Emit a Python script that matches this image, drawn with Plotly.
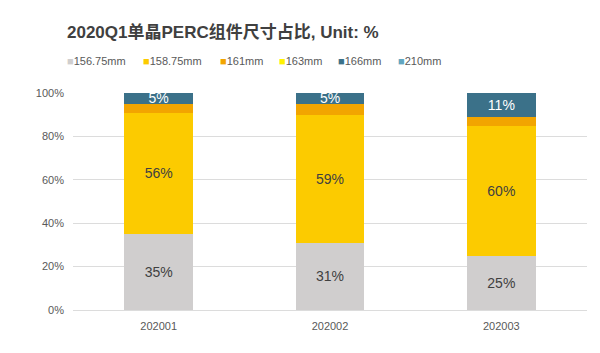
import plotly.graph_objects as go

categories = ["202001", "202002", "202003"]
series_names = ["156.75mm", "158.75mm", "161mm", "163mm", "166mm", "210mm"]
v_15675 = [35, 31, 25]
v_15875 = [56, 59, 60]
v_161 = [4, 5, 4]
v_163 = [0, 0, 0]
v_166 = [5, 5, 11]
v_210 = [0, 0, 0]
values = [v_15675, v_15875, v_161, v_163, v_166, v_210]
y_ticks = [0, 20, 40, 60, 80, 100]
y_tick_labels = ["0%", "20%", "40%", "60%", "80%", "100%"]
colors = ["#D0CECE", "#FCCB00", "#F2A500", "#FFF200", "#3B7189", "#62A6BF"]
label_colors = ["#404040", "#404040", None, None, "#FFFFFF", None]

W, H = 600, 353
ml, mr, mt, mb = 73, 13, 93, 43
pw = W - ml - mr
ph = H - mt - mb

fig = go.Figure()
for name, vals, col, lc in zip(series_names, values, colors, label_colors):
    fig.add_trace(go.Bar(
        x=categories, y=vals, name=name, marker=dict(color=col, line=dict(width=0)),
        text=[f"{v}%" for v in vals] if lc else None,
        textposition="inside" if lc else "none",
        insidetextanchor="middle",
        constraintext="none",
        textfont=dict(color=lc or "#404040", size=14, family="Liberation Sans, Arial"),
        showlegend=False,
        hoverinfo="skip",
    ))

fig.update_layout(
    width=W, height=H,
    template="none",
    barmode="stack", bargap=0.6,
    margin=dict(l=ml, r=mr, t=mt, b=mb),
    paper_bgcolor="white", plot_bgcolor="white",
    font=dict(family="Liberation Sans, Arial, Noto Sans CJK SC", color="#595959", size=11),
    yaxis=dict(
        range=[0, 100], tickmode="array", tickvals=y_ticks, ticktext=y_tick_labels,
        showgrid=True, gridcolor="#DCDCDC", gridwidth=1, zeroline=False,
        showline=False, ticks="", ticklabelstandoff=8,
        tickfont=dict(size=11, color="#595959", family="Liberation Sans, Arial"),
    ),
    xaxis=dict(
        type="category",
        showline=True, linecolor="#DCDCDC", linewidth=1, ticks="", showgrid=False,
        ticklabelstandoff=6,
        tickfont=dict(size=11, color="#595959", family="Liberation Sans, Arial"),
    ),
)

# Title
fig.add_annotation(
    text="<b>2020Q1单晶PERC组件尺寸占比, Unit: %</b>",
    xref="paper", yref="paper", x=(65 - ml) / pw, y=1 + (mt - 33) / ph,
    xanchor="left", yanchor="middle", showarrow=False,
    font=dict(size=17, color="#404040", family="Liberation Sans, Arial, Noto Sans CJK SC"),
)

# Legend built as annotations
leg_y = 1 + (mt - 61) / ph
x = 65
for name, col in zip(series_names, colors):
    fig.add_annotation(
        text=f"<span style='color:{col};font-size:11px'>■</span>{name}",
        xref="paper", yref="paper", x=(x - ml) / pw, y=leg_y,
        xanchor="left", yanchor="middle", showarrow=False,
        font=dict(size=11, color="#595959"),
    )
    x += 31 + 5.67 * len(name)

fig.write_html("out.html")
